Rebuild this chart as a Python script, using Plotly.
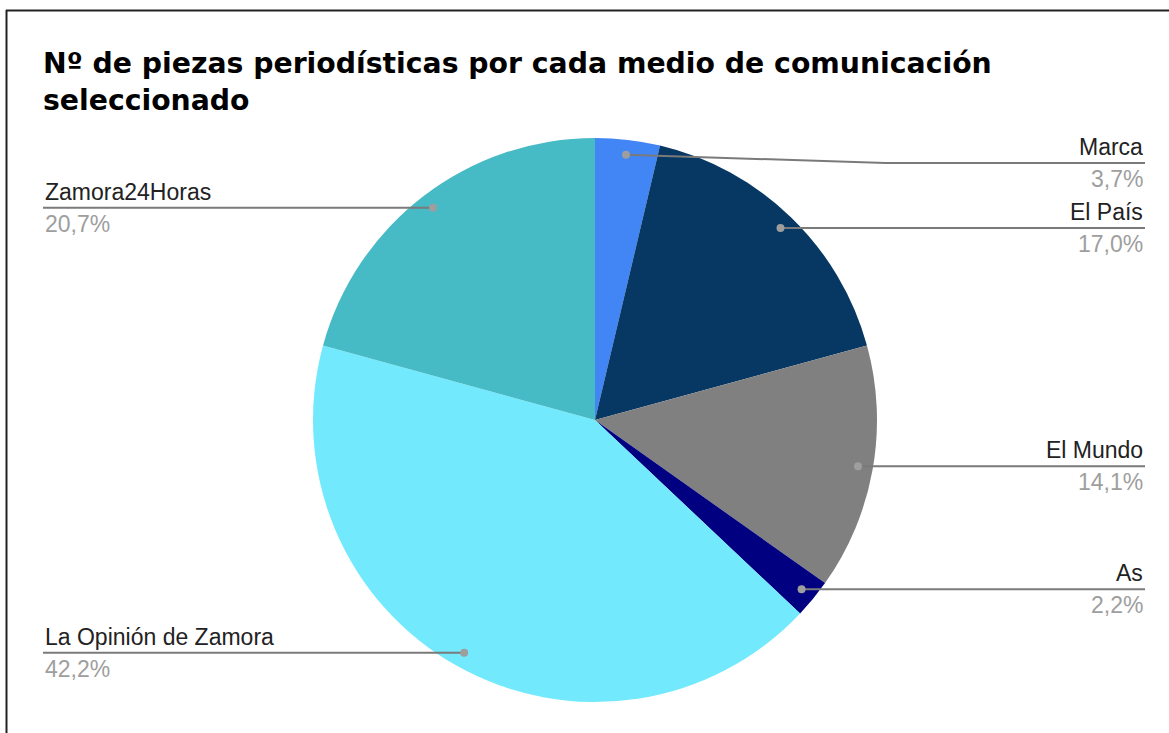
import math
import plotly.graph_objects as go

# ---- data ----
medios = ["Marca", "El País", "El Mundo", "As", "La Opinión de Zamora", "Zamora24Horas"]
piezas = [5, 23, 19, 3, 57, 28]
colores = ["#4285f4", "#073763", "#808080", "#000080", "#72e9fd", "#46bac5"]
titulo = "Nº de piezas periodísticas por cada medio de comunicación<br>seleccionado"

W, H = 1169, 733
# pie placement (pixels)
CX, CY, R = 595, 420, 282
DOT_R = 0.947 * R
RIGHT_X, LEFT_X = 1145, 43
MIN_LABEL_Y = 163


def px(x):
    return x / W


def py(y):
    return 1 - y / H


fig = go.Figure()
fig.add_trace(go.Pie(
    labels=medios, values=piezas, sort=False, direction="clockwise", rotation=0,
    marker=dict(colors=colores, line=dict(width=0)), textinfo="none",
    showlegend=False, hole=0,
    domain=dict(x=[px(CX - R), px(CX + R)], y=[py(CY + R), py(CY - R)]),
))

shapes = []
annotations = []
total = sum(piezas)
cum = 0
for name, v in zip(medios, piezas):
    mid = (cum + v / 2) / total * 2 * math.pi
    cum += v
    dx = CX + DOT_R * math.sin(mid)
    dy = CY - DOT_R * math.cos(mid)
    pct = f"{v / total * 100:.1f}".replace(".", ",") + "%"
    right = math.sin(mid) >= 0
    ly = max(dy, MIN_LABEL_Y) if right else dy
    ex = RIGHT_X if right else LEFT_X
    if abs(ly - dy) > 0.5:
        bx = (dx + ex) / 2
        path = f"M {px(dx)} {py(dy)} L {px(bx)} {py(ly)} L {px(ex)} {py(ly)}"
    else:
        path = f"M {px(dx)} {py(dy)} L {px(ex)} {py(ly)}"
    shapes.append(dict(type="path", xref="paper", yref="paper", path=path,
                       line=dict(color="#7a7a7a", width=2)))
    rr = 4
    shapes.append(dict(type="circle", xref="paper", yref="paper",
                       x0=px(dx - rr), x1=px(dx + rr), y0=py(dy + rr), y1=py(dy - rr),
                       fillcolor="#9e9e9e", line=dict(width=0)))
    anchor = "right" if right else "left"
    annotations.append(dict(text=name, x=px(ex), y=py(ly), xref="paper", yref="paper",
                            xanchor=anchor, yanchor="bottom", showarrow=False,
                            align=anchor, yshift=1,
                            font=dict(family="Liberation Sans, Arial", size=23, color="#222222")))
    annotations.append(dict(text=pct, x=px(ex), y=py(ly), xref="paper", yref="paper",
                            xanchor=anchor, yanchor="top", showarrow=False,
                            align=anchor, yshift=-1,
                            font=dict(family="Liberation Sans, Arial", size=23, color="#9e9e9e")))

annotations.append(dict(text=titulo, x=px(41), y=py(45), xref="paper", yref="paper",
                        xanchor="left", yanchor="top", showarrow=False, align="left",
                        font=dict(family="DejaVu Sans", size=28.3, color="#000000", weight="bold")))

# frame
shapes.append(dict(type="line", xref="paper", yref="paper", x0=px(6), x1=1, y0=py(10.5), y1=py(10.5),
                   line=dict(color="#222222", width=2)))
shapes.append(dict(type="line", xref="paper", yref="paper", x0=px(6.5), x1=px(6.5), y0=py(10), y1=0,
                   line=dict(color="#222222", width=2)))

fig.update_layout(width=W, height=H, autosize=False, margin=dict(l=0, r=0, t=0, b=0),
                  paper_bgcolor="white", plot_bgcolor="white",
                  shapes=shapes, annotations=annotations)
fig.write_html("out.html")
